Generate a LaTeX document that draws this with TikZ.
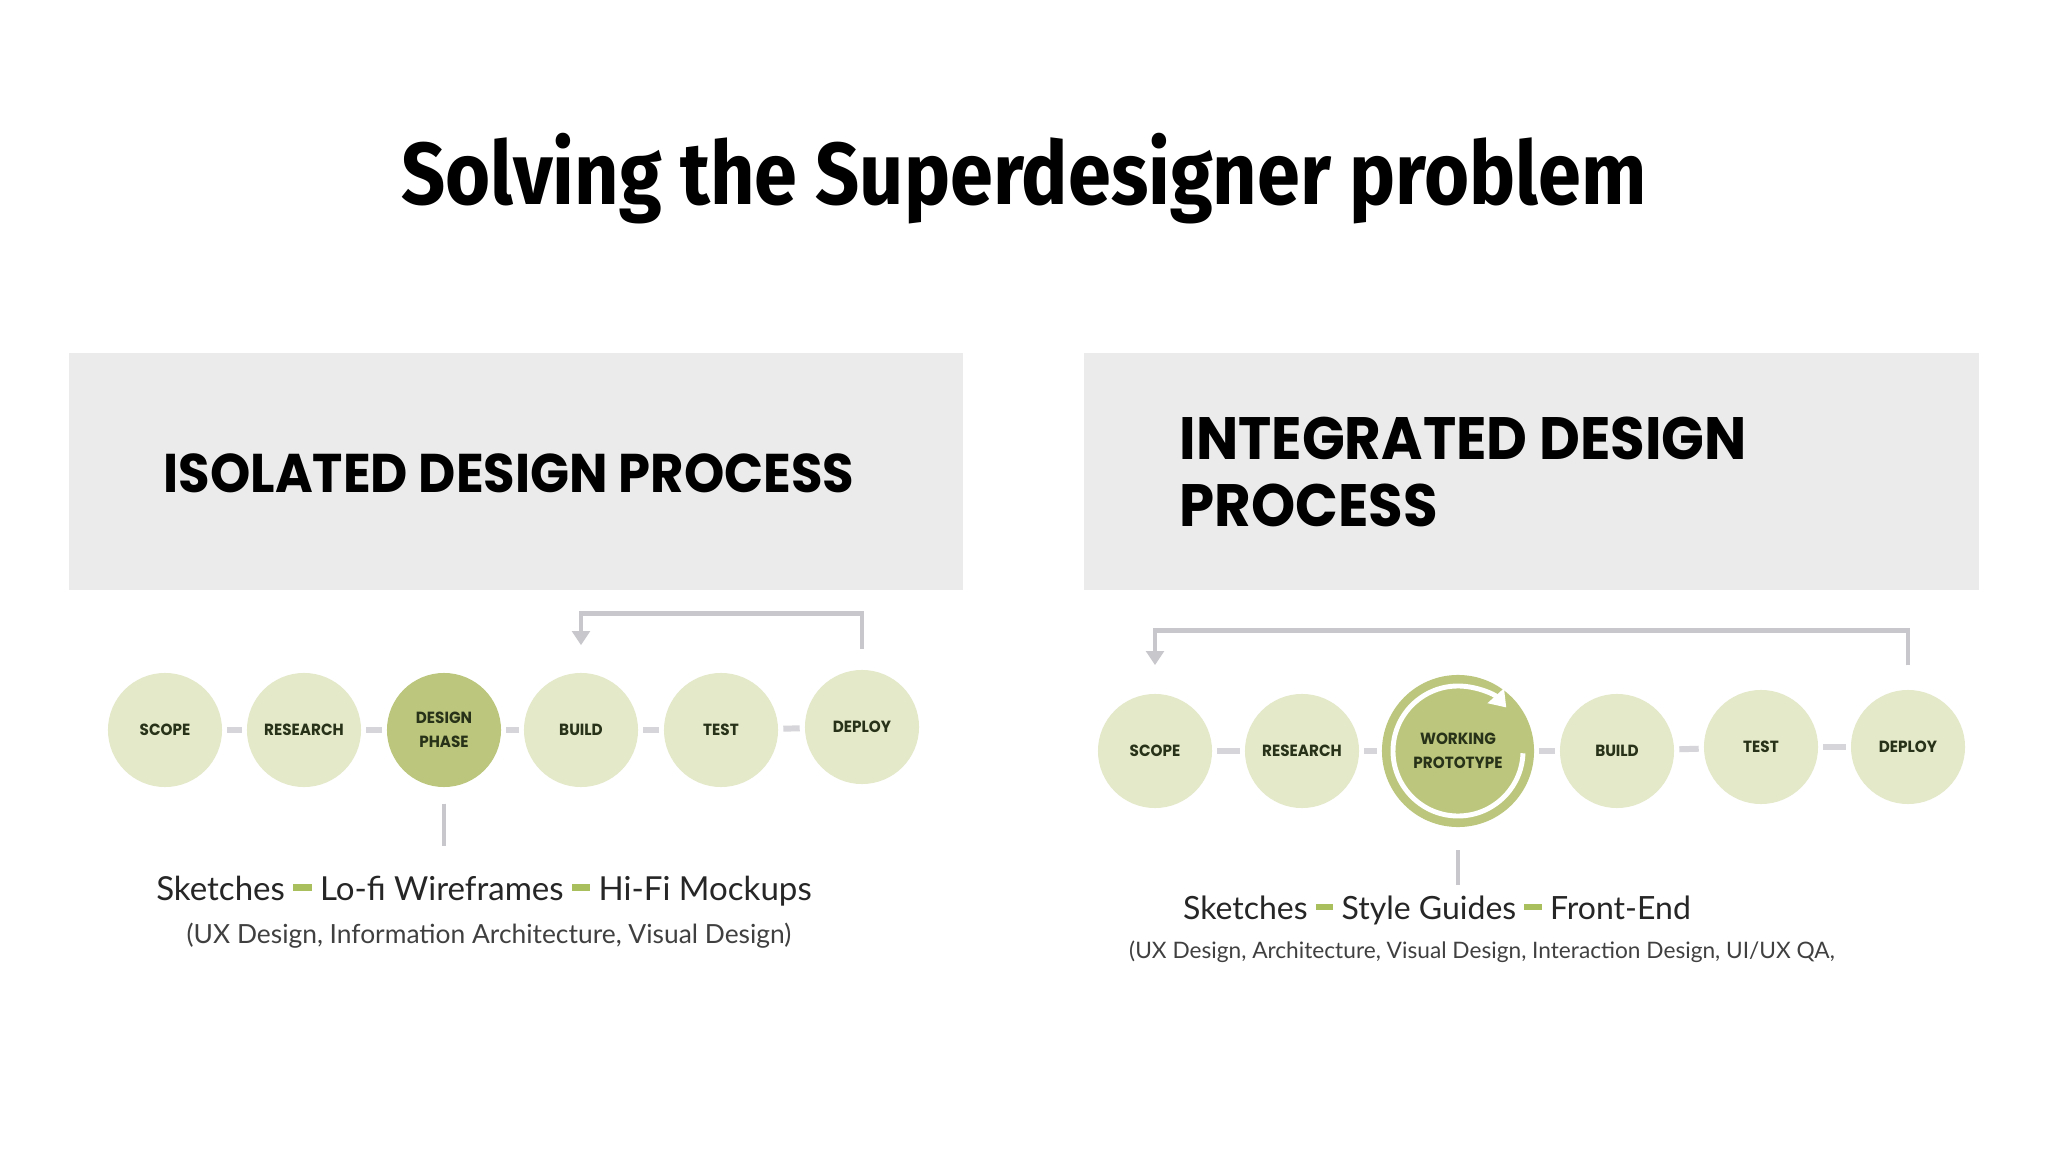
\documentclass[tikz,border=0pt]{standalone}
\usepackage{fontspec}
\setmainfont{Lato}
\newfontfamily\headfont{Poppins}[FakeStretch=0.94]
\newfontfamily\titlefont{Fira Sans}[FakeStretch=0.88]
\usetikzlibrary{arrows.meta}
\definecolor{panelgray}{RGB}{235,235,235}
\definecolor{pale}{RGB}{227,233,201}
\definecolor{olive}{RGB}{188,199,125}
\definecolor{ink}{RGB}{40,50,24}
\definecolor{linkgray}{RGB}{214,214,218}
\definecolor{backgray}{RGB}{200,200,204}
\definecolor{dashgreen}{RGB}{169,191,94}
\newcommand{\dashmark}{\textcolor{dashgreen}{\rule[0.28em]{0.55em}{0.2em}}}

\begin{document}
\begin{tikzpicture}[x=0.01cm, y=-0.01cm, phase/.style={circle, fill=pale, minimum size=1.14cm, inner sep=0pt, text=ink, align=center, font=\headfont\bfseries\fontsize{4.6}{6.7}\selectfont}, focus/.style={phase, fill=olive}, link/.style={draw=linkgray, line width=1.7pt, shorten <=1.3pt, shorten >=1.3pt}, back/.style={draw=backgray, line width=1.3pt, -{Triangle[length=4pt, width=5pt]}}, stem/.style={draw=backgray, line width=1.1pt}, head/.style={inner sep=0pt, align=left, font=\headfont\bfseries\fontsize{15.5}{19}\selectfont}, tools/.style={font=\fontsize{9.4}{12}\selectfont, text=black!85}, roles/.style={font=\fontsize{7.5}{9}\selectfont, text=black!75}]
                % frame
                \useasboundingbox (0,0) rectangle (2048,1152);
                \fill[white] (0,0) rectangle (2048,1152);
                \node[anchor=base, font=\titlefont\bfseries\fontsize{25}{30}\selectfont] (title) at (1024,205) {Solving the Superdesigner problem};
                % panels
                \fill[panelgray] (69,353) rectangle (963,590);
                \fill[panelgray] (1084,353) rectangle (1979,590);
                \node[head, anchor=base west] (isoHead) at (163,492) {ISOLATED DESIGN PROCESS};
                \node[head, anchor=west, font=\headfont\bfseries\fontsize{17}{19}\selectfont] (intHead) at (1179,472) {INTEGRATED DESIGN\\PROCESS};
                % isolated nodes
                \node[phase] (scopeA) at (165,730) {SCOPE};
                \node[phase] (researchA) at (304,730) {RESEARCH};
                \node[focus] (designA) at (444,730) {DESIGN\\PHASE};
                \node[phase] (buildA) at (581,730) {BUILD};
                \node[phase] (testA) at (721,730) {TEST};
                \node[phase] (deployA) at (862,727) {DEPLOY};
                % integrated nodes
                \node[phase] (scopeB) at (1155,751) {SCOPE};
                \node[phase] (researchB) at (1302,751) {RESEARCH};
                \node[focus, minimum size=1.52cm] (workB) at (1458,751) {WORKING\\PROTOTYPE};
                \node[phase] (buildB) at (1617,751) {BUILD};
                \node[phase] (testB) at (1761,747) {TEST};
                \node[phase] (deployB) at (1908,747) {DEPLOY};
                % edges
                \draw[link] (scopeA) -- (researchA);
                \draw[link] (researchA) -- (designA);
                \draw[link] (designA) -- (buildA);
                \draw[link] (buildA) -- (testA);
                \draw[link] (testA) -- (deployA);
                \draw[link] (scopeB) -- (researchB);
                \draw[link] (researchB) -- (workB);
                \draw[link] (workB) -- (buildB);
                \draw[link] (buildB) -- (testB);
                \draw[link] (testB) -- (deployB);
                \draw[back] ([yshift=5.7pt]deployA.north) -- ++(0,-36) -| ([yshift=7.7pt]buildA.north);
                \draw[back] ([yshift=6.8pt]deployB.north) -- ++(0,-35) -| ([yshift=8pt]scopeB.north);
                \draw[white, line width=1.4pt, -{Triangle[length=4.5pt, width=6pt]}] ([shift={(2:65)}]workB.center) arc[start angle=2, end angle=318, radius=65];
                \draw[stem] ([yshift=-4.5pt]designA.south) -- ++(0,42);
                \draw[stem] ([yshift=-6.3pt]workB.south) -- ++(0,35);
                % texts
                \node[tools] (toolsA) at (484,891) {Sketches \dashmark{} Lo-fi Wireframes \dashmark{} Hi-Fi Mockups};
                \node[roles] (rolesA) at (489,936) {(UX Design, Information Architecture, Visual Design)};
                \node[tools, font=\fontsize{9.1}{12}\selectfont] (toolsB) at (1437,910) {Sketches \dashmark{} Style Guides \dashmark{} Front-End};
                \node[roles, font=\fontsize{6.45}{8}\selectfont] (rolesB) at (1482,952) {(UX Design, Architecture, Visual Design, Interaction Design, UI/UX QA,};
            \end{tikzpicture}
\end{document}
